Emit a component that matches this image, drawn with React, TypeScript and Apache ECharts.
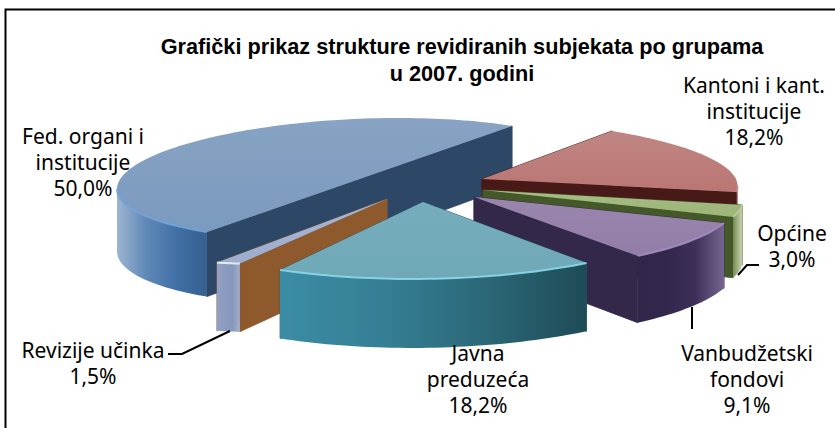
import React, { useEffect, useRef } from "react";
import * as echarts from "echarts";

const titleLines = ["Grafički prikaz strukture revidiranih subjekata po grupama", "u 2007. godini"];
const categories = ["Fed. organi i\ninstitucije", "Kantoni i kant.\ninstitucije", "Općine", "Vanbudžetski\nfondovi", "Javna\npreduzeća", "Revizije učinka"];
const values = [50.0, 18.2, 3.0, 9.1, 18.2, 1.5];

// painter's order of the slices
const drawOrder = [0, 1, 2, 3, 5, 4];
const startAngle = 129;

// projected frame of each exploded slice: apex, two conjugate half-axes, thickness
const frames = [
  { c: [359.5, 179], u: [242.5, -9.9], v: [0, 60.2], d: 63 },
  { c: [482, 179], u: [252.8, -2.1], v: [37.3, 60.1], d: 58 },
  { c: [483, 190], u: [256.8, -1.9], v: [42, 67], d: 60 },
  { c: [474, 197], u: [262.8, -5.8], v: [29.2, 73], d: 64 },
  { c: [423, 202], u: [283, -7.5], v: [16.4, 76.6], d: 65 },
  { c: [387, 199], u: [290, -29.4], v: [16, 58], d: 65 },
];

const looks = [
  { top: ["#88A3C3", "#7A9ABF"], wall: "#2D4767", rimX: [117, 207], rim: ["#9DB4D0", "#5F88B7", "#416FA5", "#35608F"], hi: "#6FA3DC" },
  { top: ["#C08683", "#BA7673"], wall: "#481A17", rimX: [700, 740], rim: ["#6B2A26", "#6B2A26", "#6B2A26", "#6B2A26"], hi: "#C08683" },
  { top: ["#A5BC85", "#9DB578"], wall: "#45582A", rimX: [728, 742], rim: ["#4F6630", "#6F8850", "#9DB080", "#C5D1AE"], hi: "#B9CC9C" },
  { top: ["#9A86AD", "#927DA7"], wall: "#33274A", rimX: [638, 724], rim: ["#31254A", "#33274B", "#3D2F58", "#75658F"], hi: "#A78FC6" },
  { top: ["#76ADBC", "#6FA8B7"], wall: "#255A68", rimX: [280, 587], rim: ["#3B8CA5", "#357F95", "#2B6878", "#1E4B56"], hi: "#8FDDEF" },
  { top: ["#A8B6D4", "#9DADCE"], wall: "#8E5A2D", rimX: [217, 240], rim: ["#8FA0C4", "#8C9CC0", "#8597BB", "#A3B0CE"], hi: "#F0F4FC" },
];

// label centres: [x, top of first line]
const labelPos = [
  [83, 123], [754, 72], [792, 220], [747, 340], [478, 340], [93, 337],
];

const leaders = [
  [[168, 354], [182, 354], [230, 331]],
  [[759, 265], [747, 265], [738, 275]],
  [[692, 307], [692, 329]],
];

const percent = (v: number) => v.toFixed(1).replace(".", ",") + "%";

const angles: number[][] = [];
values.reduce((acc, v, i) => {
  angles[i] = [acc, acc + v * 3.6];
  return acc + v * 3.6;
}, startAngle);

const pointAt = (i: number, deg: number) => {
  const f = frames[i];
  const t = (deg * Math.PI) / 180;
  return [f.c[0] + f.u[0] * Math.cos(t) + f.v[0] * Math.sin(t), f.c[1] + f.u[1] * Math.cos(t) + f.v[1] * Math.sin(t)];
};
const facesViewer = (i: number, deg: number) => {
  const f = frames[i];
  const t = (deg * Math.PI) / 180;
  return -f.u[0] * Math.sin(t) + f.v[0] * Math.cos(t) <= 0;
};
const drop = (i: number, p: number[]) => [p[0], p[1] + frames[i].d + 0.05 * (p[1] - 200)];

const renderSlice = (params: any, api: any) => {
  const i = api.value(1) as number;
  const [a0, a1] = angles[i];
  const f = frames[i];
  const look = looks[i];
  const arc: number[][] = [];
  const front: number[][] = [];
  const n = Math.max(8, Math.ceil((a1 - a0) / 1.5));
  for (let k = 0; k <= n; k++) {
    const deg = a0 + ((a1 - a0) * k) / n;
    const p = pointAt(i, deg);
    arc.push(p);
    if (facesViewer(i, deg)) front.push(p);
  }
  const first = arc[0];
  const last = arc[arc.length - 1];
  const wall = (p: number[]) => ({
    type: "polygon",
    shape: { points: [f.c, p, drop(i, p), drop(i, f.c)] },
    style: { fill: look.wall, stroke: look.wall, lineWidth: 0.8 },
  });
  const walls = first[1] > last[1] ? [wall(last), wall(first)] : [wall(first), wall(last)];
  const rimGrad = new echarts.graphic.LinearGradient(
    look.rimX[0], 0, look.rimX[1], 0,
    look.rim.map((color, k) => ({ offset: k / (look.rim.length - 1), color })),
    true
  );
  const rim = {
    type: "polygon",
    shape: { points: [...front, ...front.slice().reverse().map((p) => drop(i, p))] },
    style: { fill: rimGrad },
  };
  const top = {
    type: "polygon",
    shape: { points: [f.c, ...arc] },
    style: {
      fill: new echarts.graphic.LinearGradient(0, 0, 0, 1, [
        { offset: 0, color: look.top[0] },
        { offset: 1, color: look.top[1] },
      ]),
    },
  };
  const highlight = {
    type: "polyline",
    shape: { points: front },
    style: { stroke: look.hi, lineWidth: 2, fill: "none", opacity: 0.85 },
  };
  return { type: "group", children: [...walls, rim, top, highlight] };
};

export default function App() {
  const ref = useRef<HTMLDivElement>(null);
  useEffect(() => {
    if (!ref.current) return;
    const chart = echarts.init(ref.current, undefined, { renderer: "svg" });
    const font = '"Noto Sans", sans-serif';
    chart.setOption({
      animation: false,
      backgroundColor: "#ffffff",
      title: {
        text: titleLines.join("\n"),
        left: 457,
        top: 28,
        textAlign: "center",
        textStyle: { fontFamily: '"Liberation Sans", Arial, sans-serif', fontSize: 21.7, fontWeight: "bold", color: "#000", lineHeight: 27 },
      },
      series: [
        {
          type: "custom",
          coordinateSystem: "none",
          renderItem: renderSlice,
          silent: true,
          data: drawOrder.map((i) => [values[i], i]),
        },
      ],
      graphic: [
        { type: "polyline", shape: { points: [[5.5, 428], [5.5, 9.5], [835, 9.5]] }, style: { stroke: "#000", lineWidth: 2, fill: "none" } },
        ...leaders.map((pts) => ({
          type: "polyline",
          z: 10,
          shape: { points: pts },
          style: { stroke: "#000", lineWidth: 2, fill: "none" },
        })),
        ...categories.map((c, i) => ({
          type: "text",
          z: 20,
          x: labelPos[i][0],
          y: labelPos[i][1],
          style: {
            text: `${c}\n${percent(values[i])}`,
            fontFamily: font,
            fontSize: 21,
            lineHeight: 26,
            fill: "#000",
            align: "center",
            verticalAlign: "top",
          },
        })),
      ],
    });
    return () => chart.dispose();
  }, []);
  return <div ref={ref} style={{ position: "fixed", left: 0, top: 0, width: 835, height: 428 }} />;
}
